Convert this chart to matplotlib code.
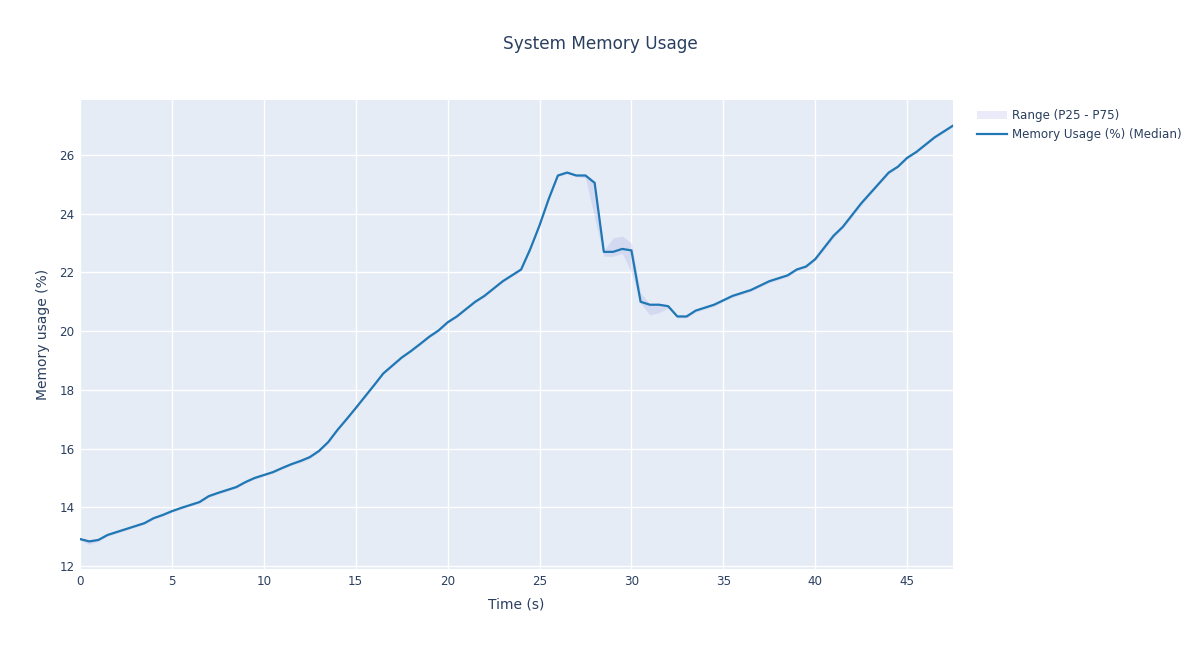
import matplotlib.pyplot as plt

plt.rcParams['font.family'] = ['DejaVu Sans']

# time axis (s), sampled every 0.5 s
time_s = [i * 0.5 for i in range(96)]

median = [12.92, 12.84, 12.89, 13.06, 13.16, 13.26, 13.36, 13.46, 13.63, 13.74,
          13.87, 13.98, 14.08, 14.18, 14.38, 14.49, 14.59, 14.69, 14.86, 15.00,
          15.10, 15.20, 15.34, 15.47, 15.58, 15.71, 15.92, 16.22, 16.63, 17.00,
          17.38, 17.77, 18.16, 18.56, 18.83, 19.10, 19.32, 19.56, 19.81, 20.02,
          20.30, 20.50, 20.75, 21.00, 21.20, 21.45, 21.70, 21.90, 22.10, 22.80,
          23.60, 24.50, 25.30, 25.40, 25.30, 25.30, 25.05, 22.70, 22.70, 22.80,
          22.75, 21.00, 20.90, 20.90, 20.85, 20.50, 20.50, 20.70, 20.80, 20.90,
          21.05, 21.20, 21.30, 21.40, 21.55, 21.70, 21.80, 21.90, 22.10, 22.20,
          22.45, 22.85, 23.25, 23.55, 23.95, 24.35, 24.70, 25.05, 25.40, 25.60,
          25.90, 26.10, 26.35, 26.60, 26.80, 27.00]

p25 = [12.88, 12.74, 12.84, 13.02, 13.12, 13.22, 13.32, 13.42, 13.59, 13.70,
       13.83, 13.94, 14.04, 14.14, 14.34, 14.45, 14.55, 14.65, 14.82, 14.96,
       15.06, 15.16, 15.30, 15.43, 15.53, 15.66, 15.88, 16.18, 16.59, 16.96,
       17.34, 17.73, 18.12, 18.52, 18.79, 19.06, 19.28, 19.52, 19.77, 19.98,
       20.26, 20.46, 20.71, 20.96, 21.16, 21.41, 21.66, 21.86, 22.06, 22.76,
       23.56, 24.46, 25.26, 25.36, 25.26, 25.22, 23.85, 22.55, 22.55, 22.65,
       22.00, 20.95, 20.55, 20.63, 20.78, 20.45, 20.45, 20.65, 20.75, 20.85,
       21.00, 21.15, 21.25, 21.35, 21.50, 21.65, 21.75, 21.85, 22.05, 22.15,
       22.40, 22.78, 23.18, 23.50, 23.88, 24.28, 24.64, 25.00, 25.35, 25.56,
       25.86, 26.06, 26.31, 26.56, 26.76, 26.96]

p75 = [12.96, 12.88, 12.93, 13.10, 13.20, 13.30, 13.40, 13.50, 13.67, 13.78,
       13.91, 14.02, 14.12, 14.24, 14.42, 14.53, 14.64, 14.74, 14.90, 15.04,
       15.14, 15.24, 15.38, 15.51, 15.64, 15.76, 15.96, 16.27, 16.67, 17.04,
       17.42, 17.81, 18.20, 18.62, 18.87, 19.14, 19.36, 19.60, 19.85, 20.06,
       20.34, 20.54, 20.79, 21.04, 21.24, 21.49, 21.74, 21.94, 22.14, 22.84,
       23.64, 24.54, 25.34, 25.44, 25.34, 25.36, 25.10, 22.75, 23.17, 23.24,
       23.00, 21.30, 20.94, 20.94, 20.89, 20.54, 20.54, 20.74, 20.84, 20.94,
       21.09, 21.24, 21.34, 21.44, 21.59, 21.74, 21.84, 21.94, 22.14, 22.24,
       22.49, 22.89, 23.29, 23.59, 23.99, 24.39, 24.74, 25.09, 25.44, 25.64,
       25.94, 26.14, 26.39, 26.64, 26.84, 27.04]

text_col = '#2a3f5f'

fig = plt.figure(figsize=(12, 6.5), dpi=100)
ax = fig.add_axes([0.0667, 0.1246, 0.7275, 0.7215])
ax.set_facecolor('#E5ECF6')

ax.fill_between(time_s, p25, p75, color=(0.42, 0.42, 0.85, 0.14), linewidth=0,
                label='Range (P25 - P75)')
ax.plot(time_s, median, color='#1f77b4', linewidth=1.6,
        label='Memory Usage (%) (Median)')

ax.set_xlim(0, 47.5)
ax.set_ylim(11.9, 27.87)
ax.set_xticks(range(0, 50, 5))
ax.set_yticks(range(12, 27, 2))
ax.grid(True, color='white', linewidth=1)
ax.set_axisbelow(True)
for s in ax.spines.values():
    s.set_visible(False)
ax.tick_params(length=0, labelsize=8.6, colors=text_col, pad=4)

ax.set_xlabel('Time (s)', fontsize=10, color=text_col, labelpad=7)
ax.set_ylabel('Memory usage (%)', fontsize=10, color=text_col, labelpad=7)

fig.text(0.5, 0.932, 'System Memory Usage', ha='center', va='center',
         fontsize=12.2, color=text_col)

leg = fig.legend(loc='upper left', bbox_to_anchor=(0.805, 0.849), frameon=False,
                 fontsize=8.6, handlelength=2.5, handletextpad=0.45, labelspacing=0.5)
for t in leg.get_texts():
    t.set_color(text_col)

fig.savefig('out.png', dpi=100)
